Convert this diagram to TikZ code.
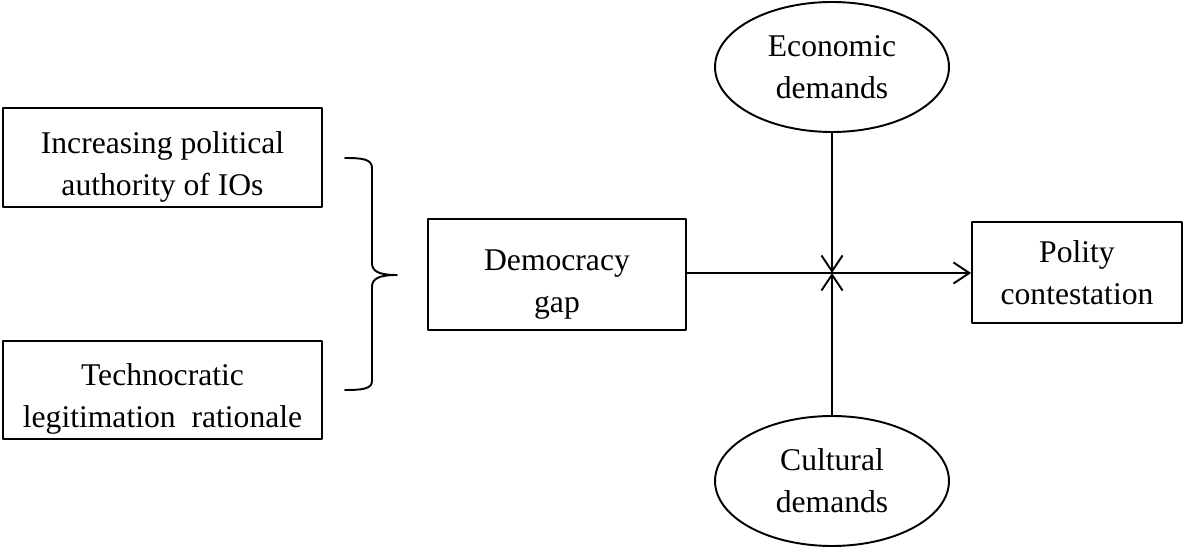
\documentclass[tikz,border=0pt]{standalone}
\usepackage{fontspec}
\setmainfont{Liberation Serif}
\usetikzlibrary{arrows.meta,shapes.geometric}
\newcommand\lift{\rule{0pt}{23pt}}
\begin{document}
\begin{tikzpicture}[x=0.02cm,y=-0.02cm,line join=round,line width=1.1pt,>={Straight Barb[length=9pt,width=12pt]}]
	\tikzset{every node/.style={font=\fontsize{18}{24}\selectfont,align=center,inner sep=0pt}}
	\tikzset{box/.style={draw,rectangle}}
	\tikzset{oval/.style={draw,ellipse,minimum width=4.68cm,minimum height=2.6cm}}
	\useasboundingbox (0,0) rectangle (1184,550);
	% left column
	\node[box,minimum width=6.38cm,minimum height=1.98cm] (authority) at (162.5,157.5) {\lift Increasing political\\authority of IOs};
	\node[box,minimum width=6.38cm,minimum height=1.96cm] (rationale) at (162.5,390) {\lift Technocratic\\legitimation~ rationale};
	% brace
	\coordinate (bracetop) at (345,158);
	\coordinate (bracetip) at (397,275);
	\coordinate (bracebot) at (345,390);
	\draw[line cap=round] (bracetop) .. controls (362,158) and (372,159) .. (372,168) -- (372,263)
		.. controls (372,271) and (378,275) .. (bracetip)
		(bracetip) .. controls (378,275) and (372,279) .. (372,287) -- (372,381)
		.. controls (372,389) and (362,390) .. (bracebot);
	% centre
	\node[box,minimum width=5.16cm,minimum height=2.22cm] (gap) at (557,274.5) {\lift Democracy\\gap};
	\node[box,minimum width=4.2cm,minimum height=2.02cm] (polity) at (1077,272.5) {Polity\\contestation};
	\node[oval] (economic) at (832,67) {Economic\\demands};
	\node[oval] (cultural) at (832,481) {Cultural\\demands};
	\coordinate (cross) at (832,273);
	\draw[->] (gap.east|-cross) -- (polity.west|-cross);
	\draw[->] (economic) -- (cross);
	\draw[->] (cultural) -- (cross);
\end{tikzpicture}
\end{document}
